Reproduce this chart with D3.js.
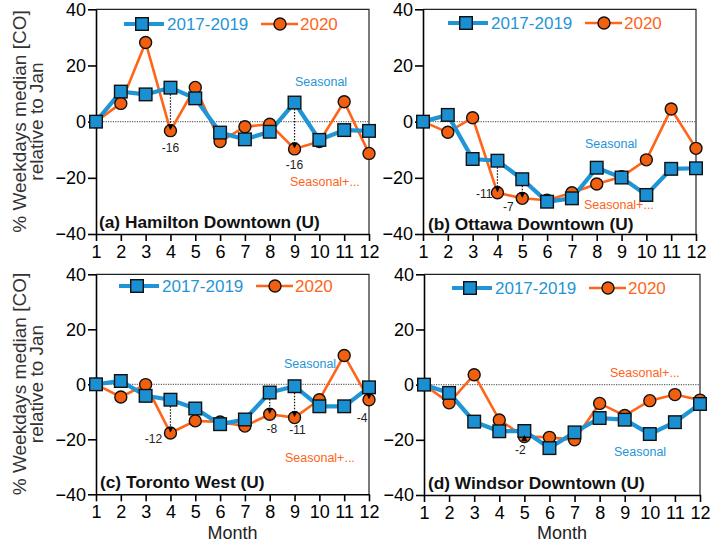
<!DOCTYPE html>
<html><head><meta charset="utf-8">
<script src="https://cdn.jsdelivr.net/npm/d3@7"></script>
<style>body{margin:0;background:#fff} svg{display:block;font-family:Arial,"Liberation Sans",Helvetica,sans-serif}</style>
</head><body><svg id="c" width="714" height="545"></svg>
<script>
// ---------- data ----------
const months = [1,2,3,4,5,6,7,8,9,10,11,12];
const yTicks = [-40,-20,0,20,40];
const seriesNames = ["2017-2019","2020"];
const panelTitles = ["(a) Hamilton Downtown (U)","(b) Ottawa Downtown (U)","(c) Toronto West (U)","(d) Windsor Downtown (U)"];
const hamiltonBase = [0,10.7,9.7,12.1,8.3,-3.9,-6.3,-3.6,6.8,-6.5,-3.0,-3.3];
const hamilton2020 = [0,6.5,28.2,-3.2,12.2,-7.1,-1.8,-0.9,-9.7,-7.1,7.1,-11.3];
const ottawaBase   = [0,2.4,-13.3,-13.9,-20.5,-28.5,-27.3,-16.4,-19.9,-26.1,-16.8,-16.6];
const ottawa2020   = [0,-3.8,1.4,-25.3,-27.3,-28.0,-25.3,-22.2,-19.6,-13.6,4.5,-9.5];
const torontoBase  = [0,1.2,-4.2,-5.6,-8.8,-14.5,-12.8,-3.0,-0.7,-8.0,-8.0,-1.1];
const toronto2020  = [0,-4.6,-0.1,-17.7,-13.3,-13.7,-15.2,-10.9,-12.1,-5.6,10.5,-5.6];
const windsorBase  = [0,-3.0,-13.4,-16.9,-16.8,-23.0,-17.3,-12.1,-12.7,-17.9,-13.6,-7.0];
const windsor2020  = [0,-6.6,3.6,-12.8,-18.8,-19.1,-20.0,-6.8,-11.2,-5.8,-3.6,-5.6];
const diffMonths = [[4,9],[4,5],[4,8,9,12],[5]];
const diffLabels = [["-16","-16"],["-11","-7"],["-12","-8","-11","-4"],["-2"]];
const noteSeasonal = "Seasonal";
const noteSeasonalPlus = "Seasonal+...";
const yTitle = ["% Weekdays median [CO]","relative to Jan"];
const xTitle = "Month";

// ---------- layout ----------
const BLUE = "#1f95d6", BLUE_FILL = "#1a8fd1", ORANGE = "#ff6419", ORANGE_FILL = "#f2600f";
const layout = [
  {x0:96, x1:369, y0:9.3, y1:234, legX:124, legY:24, titleX:99, titleY:228, xlab:false,
   seas:[295,86], seasPlus:[290,186], dl:[[0,17],[0,16]], dlAnchor:["middle","middle"]},
  {x0:423, x1:696, y0:9.3, y1:234, legX:448, legY:23, titleX:428, titleY:229.5, xlab:false,
   seas:[585,148], seasPlus:[584,208.5], dl:[[-5,1],[-14,8]], dlAnchor:["end","middle"]},
  {x0:96, x1:369, y0:274.3, y1:494.3, legX:119, legY:286, titleX:100, titleY:488, xlab:true,
   seas:[284,368], seasPlus:[285,462], dl:[[-17,6],[2,15],[3,12],[-7,18]], dlAnchor:["middle","middle","middle","middle"]},
  {x0:424, x1:700, y0:274.3, y1:495, legX:452, legY:288, titleX:428, titleY:489, xlab:true,
   seas:[614,456], seasPlus:[610,377], dl:[[-4,13]], dlAnchor:["middle"]}
];
const baseSeries = [hamiltonBase, ottawaBase, torontoBase, windsorBase];
const covSeries  = [hamilton2020, ottawa2020, toronto2020, windsor2020];

const svg = d3.select("#c");
const defs = svg.append("defs");
defs.append("marker").attr("id","arr").attr("viewBox","0 0 10 10").attr("refX",9).attr("refY",5)
  .attr("markerWidth",6).attr("markerHeight",6).attr("markerUnits","userSpaceOnUse").attr("orient","auto")
  .append("path").attr("d","M0,0L10,5L0,10Z").attr("fill","#000");

layout.forEach((L, i) => {
  const x = d3.scaleLinear().domain([1,12]).range([L.x0, L.x1]);
  const y = d3.scaleLinear().domain([-40,40]).range([L.y1, L.y0]);
  const g = svg.append("g");

  g.append("path").attr("d",`M${L.x0},${L.y0}H${L.x1}V${L.y1}`).attr("fill","none").attr("stroke","#222").attr("stroke-width",1.2);

  const ya = g.append("g").attr("transform",`translate(${L.x0},0)`)
    .call(d3.axisLeft(y).tickValues(yTicks).tickSize(8).tickPadding(2).tickSizeOuter(0));
  const xa = g.append("g").attr("transform",`translate(0,${L.y1})`)
    .call(d3.axisBottom(x).tickValues(months).tickSize(7).tickPadding(4).tickSizeOuter(0));
  [ya,xa].forEach(a => {
    a.selectAll("path,line").attr("stroke","#000").attr("stroke-width",1.6);
    a.selectAll("text").attr("font-size",18).attr("fill","#000").attr("font-family","Arial,'Liberation Sans',sans-serif");
  });

  g.append("line").attr("x1",L.x0).attr("x2",L.x1).attr("y1",y(0)).attr("y2",y(0))
    .attr("stroke","#666").attr("stroke-width",1.3).attr("stroke-dasharray","1.2,1.2");

  const line = d3.line().x((d,j)=>x(months[j])).y(d=>y(d));
  g.append("path").datum(covSeries[i]).attr("d",line).attr("fill","none").attr("stroke",ORANGE).attr("stroke-width",2.6);
  g.append("path").datum(baseSeries[i]).attr("d",line).attr("fill","none").attr("stroke",BLUE).attr("stroke-width",4.2);
  g.selectAll(".c").data(covSeries[i]).enter().append("circle")
    .attr("cx",(d,j)=>x(months[j])).attr("cy",d=>y(d)).attr("r",6)
    .attr("fill",ORANGE_FILL).attr("stroke","#111").attr("stroke-width",1.4);
  g.selectAll(".s").data(baseSeries[i]).enter().append("rect")
    .attr("x",(d,j)=>x(months[j])-6.3).attr("y",d=>y(d)-6.3).attr("width",12.6).attr("height",12.6)
    .attr("fill",BLUE_FILL).attr("stroke","#111").attr("stroke-width",1.4);

  diffMonths[i].forEach((m,k) => {
    const j = months.indexOf(m);
    const yb = y(baseSeries[i][j]), yc = y(covSeries[i][j]);
    const dir = yc > yb ? 1 : -1;
    g.append("line").attr("x1",x(m)).attr("x2",x(m)).attr("y1",yb+dir*6.5).attr("y2",yc-dir*1)
      .attr("stroke","#111").attr("stroke-width",1.2).attr("stroke-dasharray","1.5,1.5").attr("marker-end","url(#arr)");
    g.append("text").attr("x",x(m)+L.dl[k][0]).attr("y",yc+L.dl[k][1]).attr("dy","0.35em")
      .attr("text-anchor",L.dlAnchor[k]).attr("font-size",12).attr("fill","#222").text(diffLabels[i][k]);
  });

  g.append("text").attr("x",L.seas[0]).attr("y",L.seas[1]).attr("font-size",12.5).attr("fill",BLUE).text(noteSeasonal);
  g.append("text").attr("x",L.seasPlus[0]).attr("y",L.seasPlus[1]).attr("font-size",12.5).attr("fill",ORANGE).text(noteSeasonalPlus);

  const lg = g.append("g").attr("transform",`translate(${L.legX},${L.legY})`);
  lg.append("line").attr("x1",0).attr("x2",40).attr("stroke",BLUE).attr("stroke-width",4.2);
  lg.append("rect").attr("x",18-6.3).attr("y",-6.3).attr("width",12.6).attr("height",12.6)
    .attr("fill",BLUE_FILL).attr("stroke","#111").attr("stroke-width",1.4);
  lg.append("text").attr("x",43).attr("dy","0.36em").attr("font-size",17).attr("fill",BLUE).text(seriesNames[0]);
  lg.append("line").attr("x1",137).attr("x2",174).attr("stroke",ORANGE).attr("stroke-width",2.6);
  lg.append("circle").attr("cx",156).attr("r",6).attr("fill",ORANGE_FILL).attr("stroke","#111").attr("stroke-width",1.4);
  lg.append("text").attr("x",176).attr("dy","0.36em").attr("font-size",17).attr("fill",ORANGE).text(seriesNames[1]);

  g.append("text").attr("x",L.titleX).attr("y",L.titleY).attr("font-size",17.3).attr("font-weight","bold").attr("fill","#111").text(panelTitles[i]);

  if (L.xlab) {
    g.append("text").attr("x",(L.x0+L.x1)/2).attr("y",539).attr("text-anchor","middle").attr("font-size",18).attr("fill","#222").text(xTitle);
  }
});

[121.5, 384].forEach(cy => {
  yTitle.forEach((t,k) => {
    svg.append("text").attr("transform",`translate(${26+k*17},${cy}) rotate(-90)`)
      .attr("text-anchor","middle").attr("font-size",19).attr("fill","#333").text(t);
  });
});
</script></body></html>
